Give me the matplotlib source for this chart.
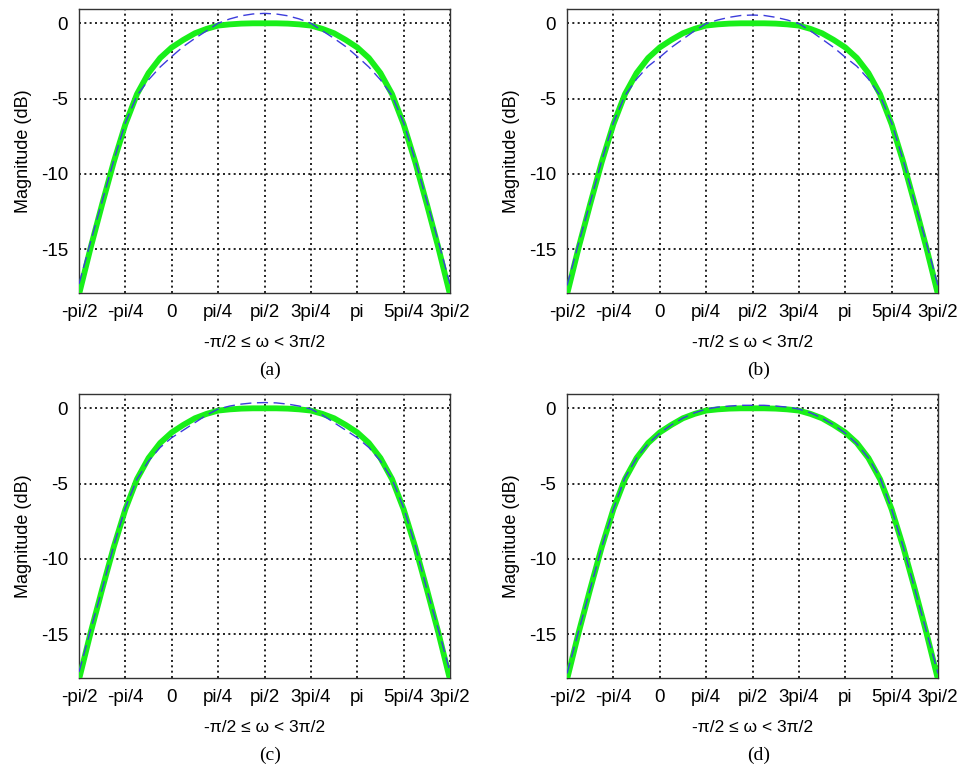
import numpy as np
import matplotlib
matplotlib.use("Agg")
import matplotlib.pyplot as plt

# x samples in units of pi/16, from -pi/2 to 3pi/2
x_units = list(range(-8, 25))
x_tick_units = [-8, -4, 0, 4, 8, 12, 16, 20, 24]
x_tick_labels = ['-pi/2', '-pi/4', '0', 'pi/4', 'pi/2', '3pi/4', 'pi', '5pi/4', '3pi/2']
y_ticks = [-15, -10, -5, 0]

# green (solid, thick) response, same in all panels
green = [-18.0, -14.9, -12.0, -9.2, -6.7, -4.7, -3.3, -2.3, -1.6, -1.1, -0.66, -0.37, -0.15, -0.07, -0.02, 0.0,
         0.0,
         0.0, -0.02, -0.07, -0.15, -0.37, -0.66, -1.1, -1.6, -2.3, -3.3, -4.7, -6.7, -9.2, -12.0, -14.9, -18.0]

# blue (dashed) responses
blue_a = [-17.3, -14.5, -11.8, -9.1, -6.6, -4.8, -3.75, -2.9, -2.2, -1.54, -1.0, -0.5, 0.0, 0.29, 0.5, 0.62,
          0.66,
          0.62, 0.5, 0.29, 0.0, -0.5, -1.0, -1.54, -2.2, -2.9, -3.75, -4.8, -6.6, -9.1, -11.8, -14.5, -17.3]
blue_b = [-17.4, -14.6, -11.9, -9.1, -6.6, -4.8, -3.7, -2.85, -2.25, -1.6, -1.05, -0.5, -0.02, 0.22, 0.4, 0.52,
          0.55,
          0.52, 0.4, 0.22, -0.02, -0.5, -1.05, -1.6, -2.25, -2.85, -3.7, -4.8, -6.6, -9.1, -11.9, -14.6, -17.4]
blue_c = [-17.5, -14.7, -12.0, -9.1, -6.6, -4.7, -3.5, -2.6, -1.95, -1.45, -0.95, -0.45, -0.05, 0.15, 0.28, 0.36,
          0.38,
          0.36, 0.28, 0.15, -0.05, -0.45, -0.95, -1.45, -1.95, -2.6, -3.5, -4.7, -6.6, -9.1, -12.0, -14.7, -17.5]
blue_d = [-17.6, -14.8, -12.0, -9.2, -6.7, -4.6, -3.3, -2.35, -1.65, -1.1, -0.65, -0.3, -0.05, 0.08, 0.15, 0.2,
          0.2,
          0.2, 0.15, 0.08, -0.05, -0.3, -0.65, -1.1, -1.65, -2.35, -3.3, -4.6, -6.7, -9.2, -12.0, -14.8, -17.6]

panels = ['(a)', '(b)', '(c)', '(d)']
blues = [blue_a, blue_b, blue_c, blue_d]

plt.rcParams['font.family'] = ['Liberation Sans', 'DejaVu Sans']

W, H = 960, 771
fig = plt.figure(figsize=(W / 100, H / 100), dpi=100)

# axes boxes in pixels: left, right, top, bottom
boxes = [(79, 450, 9, 293), (567, 938, 9, 293), (79, 450, 394, 678), (567, 938, 394, 678)]

x = np.array(x_units) * np.pi / 16
xt = np.array(x_tick_units) * np.pi / 16

for (l, r, t, b), name, blue in zip(boxes, panels, blues):
    ax = fig.add_axes([l / W, 1 - b / H, (r - l) / W, (b - t) / H])
    ax.plot(x, green, color='#19ef19', lw=4.2, solid_capstyle='butt',
            solid_joinstyle='round', zorder=3)
    ax.plot(x, blue, color='#3c3cdc', lw=1.0, dashes=(8, 4), zorder=4)
    ax.set_xlim(xt[0], xt[-1])
    ax.set_ylim(-17.9, 0.95)
    ax.set_xticks(xt)
    ax.set_xticklabels(x_tick_labels)
    ax.set_yticks(y_ticks)
    ax.set_yticklabels([str(v) for v in y_ticks])
    ax.grid(True, color='black', linestyle=(0, (1.2, 2.0)), linewidth=1.2)
    ax.tick_params(direction='in', length=0, labelsize=13.5, pad=8)
    for s in ax.spines.values():
        s.set_color('#333333')
        s.set_linewidth(1.0)
    ax.set_ylabel('Magnitude (dB)', fontsize=13, labelpad=6)
    ax.set_xlabel('-π/2 ≤ ω < 3π/2', fontsize=12.5, labelpad=10)
    cx = (l + r) / 2 + 6
    cy = b + 77
    fig.text(cx / W, 1 - cy / H, name, ha='center', va='center',
             family=['Liberation Serif', 'DejaVu Serif'], fontsize=14)

fig.savefig('out.png', dpi=100, facecolor='white')
